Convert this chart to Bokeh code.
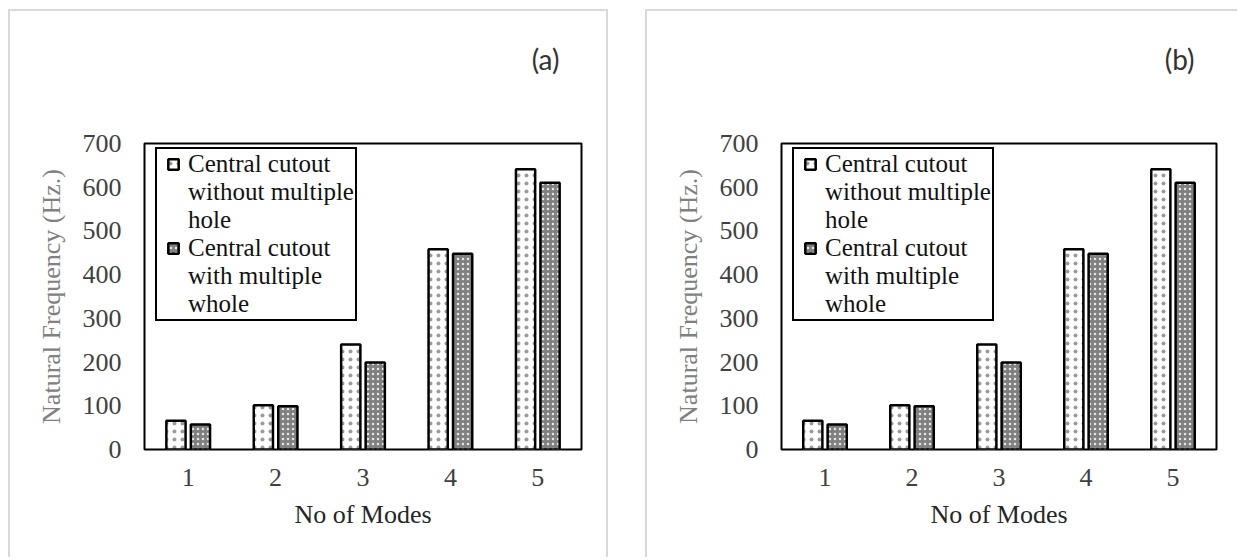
from bokeh.plotting import figure
from bokeh.models import (ColumnDataSource, FactorRange, Legend, LegendItem, Title,
                          Range1d, FixedTicker)
from bokeh.transform import dodge
from bokeh.layouts import row
from bokeh.embed import file_html
from bokeh.resources import INLINE

# ---- data ----
modes = ["1", "2", "3", "4", "5"]
without_holes = [66, 101, 240, 458, 641]
with_holes = [57, 99, 199, 448, 610]
series_names = ["Central cutout\nwithout multiple\nhole",
                "Central cutout\nwith multiple\nwhole"]
y_ticks = [0, 100, 200, 300, 400, 500, 600, 700]
panel_tags = ["(a)", "(b)"]
x_title = "No of Modes"
y_title = "Natural Frequency (Hz.)"

SERIF = "Liberation Serif"
FS = "26px"

white_style = dict(fill_color="white", hatch_pattern="dot", hatch_color="#9a9a9a",
                   hatch_scale=8, hatch_weight=1.3, line_color="black", line_width=2.5)
gray_style = dict(fill_color="#808080", hatch_pattern="dot", hatch_color="#e6e6e6",
                  hatch_scale=5, hatch_weight=1.5, line_color="black", line_width=2.5)


def make_panel(tag, width, right, border):
    src = ColumnDataSource(dict(mode=modes, a=without_holes, b=with_holes))
    xr = FactorRange(*modes, range_padding=0)
    p = figure(x_range=xr, y_range=Range1d(0, 700), width=width, height=546,
               min_border_left=134, min_border_right=right, min_border_top=132,
               min_border_bottom=110, output_backend="svg", toolbar_location=None,
               tools="")
    p.styles = border
    p.xgrid.visible = False
    p.ygrid.visible = False
    p.outline_line_color = "black"
    p.outline_line_width = 2
    p.outline_line_alpha = 1
    p.background_fill_color = "white"
    p.border_fill_color = "white"

    xa = dodge("mode", -0.14, range=xr)
    xb = dodge("mode", 0.14, range=xr)
    p.vbar(x=xa, top="a", width=0.22, source=src, **white_style)
    p.vbar(x=xb, top="b", width=0.22, source=src, **gray_style)

    # hidden marker renderers used only as legend swatches
    sq_a = p.scatter(x=xa, y="a", source=src, marker="square", visible=False, **white_style)
    sq_b = p.scatter(x=xb, y="b", source=src, marker="square", visible=False, **gray_style)
    blank = p.scatter(x=xa, y="a", source=src, marker="square", fill_alpha=0,
                      line_alpha=0, hatch_alpha=0, visible=False)

    items = []
    for name, rend in zip(series_names, [sq_a, sq_b]):
        lines = name.split("\n")
        items.append(LegendItem(label=lines[0], renderers=[rend], index=0))
        for ln in lines[1:]:
            items.append(LegendItem(label=ln, renderers=[blank], index=0))
    legend = Legend(items=items, location=(11, 128), orientation="vertical",
                    label_text_font=SERIF, label_text_font_size="25px",
                    label_text_font_style="normal",
                    label_text_color="#111111", label_height=27, label_standoff=0,
                    glyph_width=30, glyph_height=26, padding=1, spacing=0, margin=0,
                    border_line_color="black", border_line_width=2,
                    border_line_alpha=1,
                    background_fill_color="white", background_fill_alpha=1,
                    inactive_fill_alpha=0, click_policy="none")
    p.add_layout(legend)

    p.yaxis.ticker = FixedTicker(ticks=y_ticks)
    for ax in (p.xaxis[0], p.yaxis[0]):
        ax.axis_line_color = None
        ax.major_tick_line_color = None
        ax.minor_tick_line_color = None
        ax.major_tick_out = 0
        ax.major_tick_in = 0
        ax.minor_tick_out = 0
        ax.minor_tick_in = 0
        ax.major_label_text_font = SERIF
        ax.major_label_text_font_size = FS
        ax.major_label_text_color = "#404040"
        ax.axis_label_text_font = SERIF
        ax.axis_label_text_font_size = FS
        ax.axis_label_text_font_style = "normal"
    p.xaxis.axis_label = x_title
    p.xaxis.axis_label_text_color = "#262626"
    p.yaxis.axis_label = y_title
    p.yaxis.axis_label_text_color = "#808080"
    p.yaxis.major_label_standoff = 23
    p.xaxis.major_label_standoff = 19
    p.yaxis.axis_label_standoff = 14
    p.xaxis.axis_label_standoff = 11

    # spacer (closest to frame) then the panel tag above it
    p.add_layout(Title(text=" ", text_font=SERIF, text_font_size="10px",
                       text_font_style="normal", standoff=55), "above")
    p.add_layout(Title(text=tag, align="right", offset=22, standoff=0, text_font="Lato",
                       text_font_size="28px", text_font_style="normal",
                       text_color="#333333"), "above")
    return p


b_left = {"box-sizing": "content-box", "border-top": "2px solid #d9d9d9",
          "border-left": "2px solid #d9d9d9", "border-right": "2px solid #d9d9d9"}
b_right = {"box-sizing": "content-box", "border-top": "2px solid #d9d9d9",
           "border-left": "2px solid #d9d9d9"}

p1 = make_panel(panel_tags[0], 596, 29, b_left)
p2 = make_panel(panel_tags[1], 590, 23, b_right)
layout = row(p1, p2, spacing=37, margin=(9, 0, 0, 8))

open("out.html", "w").write(file_html(layout, INLINE))
